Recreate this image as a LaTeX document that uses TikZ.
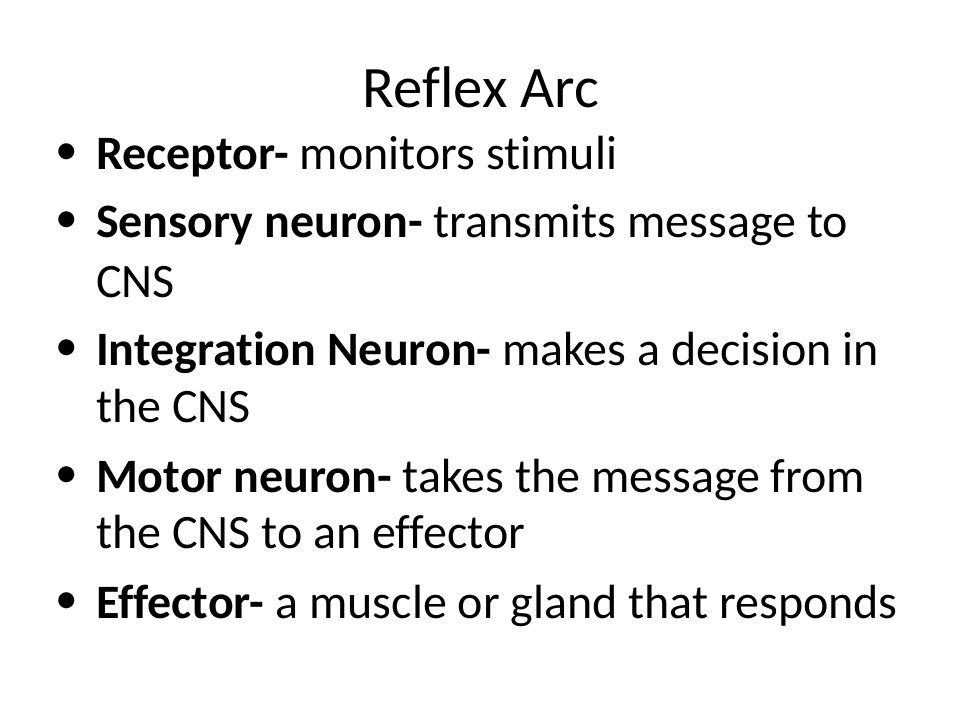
\documentclass[tikz,border=0pt]{standalone}
\usepackage{fontspec}
\setmainfont{Carlito}[Ligatures=NoCommon]
\begin{document}
\begin{tikzpicture}[x=.75pt,y=-.75pt, every node/.style={inner sep=0pt,outer sep=0pt},
	txt/.style={anchor=base west, font=\fontsize{36}{43}\selectfont},
	dot/.style={anchor=base, font=\fontsize{34}{40}\selectfont}]
	\def\tx{96} \def\bx{67} % text and bullet columns
	\useasboundingbox (0,0) rectangle (960,720);
	\node[anchor=base, font=\fontsize{44}{53}\selectfont] (title) at (481,108) {Reflex Arc};
	\foreach \y/\n in {170/1,238/2,365/3,492/4,618/5}
		\node[dot] (b\n) at (\bx,\y-5) {•};
	\node[txt] (rec) at (\tx,170) {\textbf{Receptor-} monitors stimuli};
	\node[txt] (sen) at (\tx,238) {\textbf{Sensory neuron-} transmits message to};
	\node[txt] (sen2) at (\tx,297) {CNS};
	\node[txt] (int) at (\tx,365) {\textbf{Integration Neuron-} makes a decision in};
	\node[txt] (int2) at (\tx,422) {the CNS};
	\node[txt] (mot) at (\tx,492) {\textbf{Motor neuron-} takes the message from};
	\node[txt] (mot2) at (\tx,548) {the CNS to an effector};
	\node[txt] (eff) at (\tx,618) {\textbf{Effector-} a muscle or gland that responds};
\end{tikzpicture}
\end{document}
